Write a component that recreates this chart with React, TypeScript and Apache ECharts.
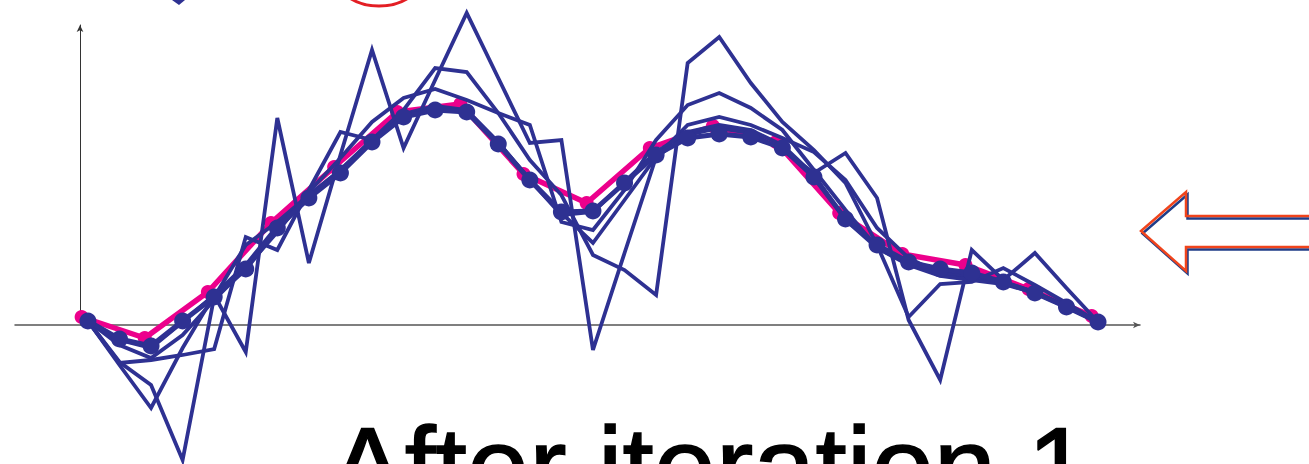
import React, { useEffect, useRef } from "react";
import * as echarts from "echarts";

// sample positions (grid index along the x axis)
const sampleIndex = [0, 1, 2, 3, 4, 5, 6, 7, 8, 9, 10, 11, 12, 13, 14, 15, 16, 17, 18, 19, 20, 21, 22, 23, 24, 25, 26, 27, 28, 29, 30, 31, 32];
// the true (magenta) curve is sampled on every other position, slightly shifted
const trueIndex = [-0.2, 1.8, 3.8, 5.8, 7.8, 9.8, 11.8, 13.8, 15.8, 17.8, 19.8, 21.8, 23.8, 25.8, 27.8, 29.8, 31.8];
const trueCurve = [0.08, -0.13, 0.33, 1.02, 1.58, 2.13, 2.21, 1.51, 1.22, 1.77, 1.99, 1.83, 1.12, 0.71, 0.6, 0.36, 0.09];

// estimate after iteration 1 (navy dots)
const meanEstimate = [0.04, -0.14, -0.21, 0.04, 0.28, 0.56, 0.97, 1.27, 1.52, 1.83, 2.08, 2.15, 2.13, 1.81, 1.45, 1.13, 1.14, 1.42, 1.7, 1.87, 1.91, 1.88, 1.77, 1.48, 1.06, 0.8, 0.63, 0.56, 0.52, 0.43, 0.32, 0.18, 0.03];

// individual noisy curves
const curveA = [0.04, -0.4, -0.83, -0.23, 0.3, -0.27, 2.07, 0.62, 1.7, 2.75, 1.77, 2.45, 3.12, 2.47, 1.82, 1.85, -0.25, 0.72, 1.68, 1.9, 1.97, 1.92, 1.75, 1.52, 1.72, 1.27, 0.05, -0.55, 0.75, 0.45, 0.72, 0.37, 0.03];
const curveB = [0.04, -0.37, -0.6, -1.35, 0.28, 0.8, 1.03, 1.3, 1.55, 1.85, 2.11, 2.19, 2.15, 1.83, 1.45, 1.12, 0.82, 1.25, 1.68, 2.0, 2.08, 2.0, 1.87, 1.73, 1.45, 0.97, 0.67, 0.51, 0.47, 0.42, 0.33, 0.19, 0.03];
const curveC = [0.04, -0.38, -0.35, -0.3, -0.24, 0.88, 0.75, 1.35, 1.93, 1.85, 2.15, 2.57, 2.53, 2.12, 1.65, 1.3, 0.7, 0.55, 0.3, 2.62, 2.88, 2.42, 2.03, 1.75, 1.42, 0.8, 0.08, 0.41, 0.43, 0.57, 0.4, 0.22, 0.03];
const curveD = [0.04, -0.2, -0.33, -0.1, 0.25, 0.57, 0.93, 1.33, 1.67, 2.03, 2.27, 2.36, 2.25, 2.12, 2.0, 1.03, 0.95, 1.35, 1.85, 2.2, 2.32, 2.17, 1.95, 1.55, 1.15, 0.77, 0.6, 0.49, 0.45, 0.41, 0.32, 0.18, 0.03];
const curveE = [0.04, -0.15, -0.23, 0.03, 0.3, 0.6, 0.99, 1.29, 1.55, 1.85, 2.09, 2.17, 2.14, 1.82, 1.45, 1.1, 1.13, 1.43, 1.73, 1.93, 2.0, 1.95, 1.8, 1.5, 1.05, 0.77, 0.61, 0.53, 0.49, 0.43, 0.33, 0.19, 0.03];
const noisyCurves = [curveA, curveB, curveC, curveD, curveE];

const titleText = "After iteration 1";

const NAVY = "#2E3192";
const MAGENTA = "#EC008C";

export default function App() {
  const ref = useRef<HTMLDivElement>(null);

  useEffect(() => {
    if (!ref.current) return;
    const chart = echarts.init(ref.current, null, { renderer: "svg" });
    const pair = (xs: number[], ys: number[]) => xs.map((x, k) => [x, ys[k]]);

    const noisySeries = noisyCurves.map((c, k) => ({
      type: "line",
      name: "curve" + k,
      xAxisIndex: 0,
      yAxisIndex: 0,
      data: pair(sampleIndex, c),
      symbol: "none",
      clip: false,
      silent: true,
      z: 3,
      lineStyle: { color: NAVY, width: 3.8, join: "miter" },
    }));

    chart.setOption({
      animation: false,
      grid: [
        { left: 15, top: 0, width: 1125, height: 464 },
        { left: 80, top: 25, width: 10, height: 300 },
      ],
      xAxis: [
        {
          type: "value",
          gridIndex: 0,
          min: -2.31,
          max: 33.33,
          axisLine: {
            show: true,
            onZero: true,
            symbol: ["none", "arrow"],
            symbolSize: [5, 7],
            lineStyle: { color: "#555", width: 1.5 },
          },
          axisTick: { show: false },
          axisLabel: { show: false },
          splitLine: { show: false },
        },
        { type: "value", gridIndex: 1, min: 0, max: 1, show: false },
      ],
      yAxis: [
        { type: "value", gridIndex: 0, min: -1.39, max: 3.25, show: false },
        {
          type: "value",
          gridIndex: 1,
          min: 0,
          max: 1,
          position: "left",
          axisLine: {
            show: true,
            onZero: false,
            symbol: ["none", "arrow"],
            symbolSize: [5, 7],
            lineStyle: { color: "#333", width: 1 },
          },
          axisTick: { show: false },
          axisLabel: { show: false },
          splitLine: { show: false },
        },
      ],
      series: [
        {
          type: "line",
          name: "true",
          xAxisIndex: 0,
          yAxisIndex: 0,
          data: pair(trueIndex, trueCurve),
          symbol: "circle",
          symbolSize: 14,
          clip: false,
          silent: true,
          z: 2,
          itemStyle: { color: MAGENTA },
          lineStyle: { color: MAGENTA, width: 5.5 },
        },
        ...noisySeries,
        {
          type: "line",
          name: "estimate",
          xAxisIndex: 0,
          yAxisIndex: 0,
          data: pair(sampleIndex, meanEstimate),
          symbol: "circle",
          symbolSize: 17,
          clip: false,
          silent: true,
          z: 4,
          itemStyle: { color: NAVY },
          lineStyle: { color: NAVY, width: 5 },
        },
      ],
      graphic: [
        {
          type: "polygon",
          shape: { points: [[172, 0], [185, 0], [179, 5]] },
          style: { fill: NAVY },
          silent: true,
        },
        {
          type: "ellipse",
          shape: { cx: 379, cy: -19, rx: 40, ry: 25 },
          style: { fill: "none", stroke: "#E31E24", lineWidth: 3 },
          silent: true,
        },
        {
          type: "polygon",
          x: 1.5,
          y: 2.5,
          shape: {
            points: [[1141, 231], [1186, 192], [1186, 216], [1320, 216], [1320, 247], [1186, 247], [1186, 271]],
          },
          style: { fill: "none", stroke: "#1F3C88", lineWidth: 2.5 },
          silent: true,
        },
        {
          type: "polygon",
          shape: {
            points: [[1141, 231], [1186, 192], [1186, 216], [1320, 216], [1320, 247], [1186, 247], [1186, 271]],
          },
          style: { fill: "none", stroke: "#F0441C", lineWidth: 2.5 },
          silent: true,
        },
        {
          type: "text",
          x: 330,
          y: 466,
          style: {
            text: titleText,
            fill: "#000",
            stroke: "#000",
            lineWidth: 1.5,
            fontSize: 112,
            fontFamily: '"Liberation Sans", Arial, sans-serif',
            align: "left",
            verticalAlign: "middle",
          },
          silent: true,
          z: 10,
        },
      ],
    });

    return () => chart.dispose();
  }, []);

  return (
    <div
      ref={ref}
      style={{ position: "fixed", left: 0, top: 0, width: 1309, height: 464, background: "#fff" }}
    />
  );
}
